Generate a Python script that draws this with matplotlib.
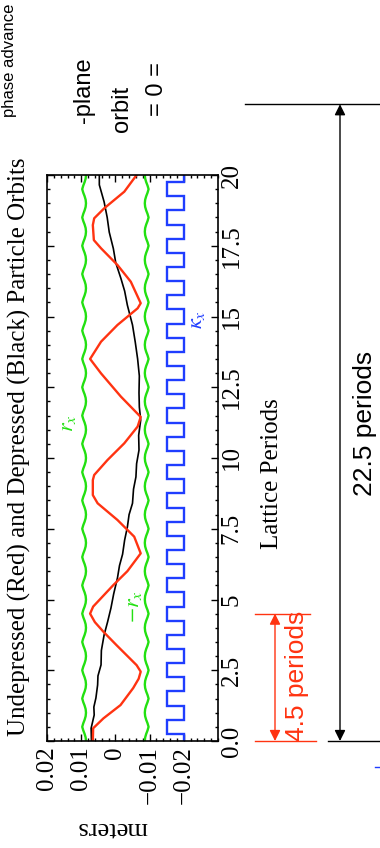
import numpy as np
import matplotlib
matplotlib.use("Agg")
import matplotlib.pyplot as plt
from matplotlib.transforms import blended_transform_factory

# undepressed orbit (red): lattice period, x [m]
red_p = [0.0, 0.45, 0.8, 1.27, 1.87, 2.2, 2.45, 2.68, 3.39, 3.86, 4.2, 4.5, 4.75,
         5.51, 6.0, 6.63, 7.22, 7.81, 8.4, 8.69, 9.22, 9.4, 9.93, 10.52, 11.11,
         11.45, 12.17, 12.99, 13.5, 14.11, 14.7, 15.29, 15.47, 16.23, 16.82,
         17.41, 17.7, 18.23, 18.47, 18.82, 19.41, 20.0]
red_x = [0.0066, 0.0065, 0.0035, -0.0015, -0.0052, -0.0068, -0.0074, -0.0062,
         -0.0003, 0.0035, 0.0060, 0.0074, 0.0065, 0.0006, -0.0035, -0.0074,
         -0.0055, -0.0006, 0.0052, 0.0066, 0.0066, 0.0062, 0.0023, -0.0026,
         -0.0065, -0.0074, -0.0016, 0.0042, 0.0074, 0.0042, -0.0006, -0.0065,
         -0.0074, -0.0045, -0.0006, 0.0042, 0.0063, 0.0066, 0.0062, 0.0033,
         -0.0026, -0.0062]

# depressed orbit (black)
blk_p = [0.0, 0.45, 0.92, 1.2, 1.52, 1.98, 2.3, 2.69, 3.2, 3.75, 4.2, 4.7, 5.2,
         5.76, 6.2, 6.6, 7.1, 7.56, 8.0, 8.4, 8.9, 9.33, 9.8, 10.28, 10.8, 11.34,
         11.8, 12.3, 12.9, 13.5, 14.1, 14.7, 15.4, 15.9, 16.35, 16.9, 17.4,
         17.98, 18.5, 19.05, 19.65, 20.0]
blk_x = [0.0070, 0.0071, 0.0062, 0.0063, 0.0057, 0.0052, 0.0051, 0.0042, 0.0041,
         0.0033, 0.0023, 0.0013, 0.0005, -0.0006, -0.0012, -0.0021, -0.0027,
         -0.0035, -0.0040, -0.0050, -0.0053, -0.0060, -0.0062, -0.0069, -0.0068,
         -0.0074, -0.0070, -0.0069, -0.0070, -0.0065, -0.0058, -0.0050, -0.0035,
         -0.0027, -0.0016, -0.0001, 0.0006, 0.0018, 0.0024, 0.0033, 0.0047,
         0.0047]

# matched beam edge r_x, sampled every 1/8 period
env_p = np.arange(0, 20.001, 0.125)
env_r = [
    0.0086, 0.0087, 0.0090, 0.0094, 0.0097, 0.0094, 0.0090, 0.0087,
    0.0086, 0.0087, 0.0090, 0.0094, 0.0097, 0.0094, 0.0090, 0.0087,
    0.0086, 0.0087, 0.0090, 0.0094, 0.0097, 0.0094, 0.0090, 0.0087,
    0.0086, 0.0087, 0.0090, 0.0094, 0.0097, 0.0094, 0.0090, 0.0087,
    0.0086, 0.0087, 0.0090, 0.0094, 0.0097, 0.0094, 0.0090, 0.0087,
    0.0086, 0.0087, 0.0090, 0.0094, 0.0097, 0.0094, 0.0090, 0.0087,
    0.0086, 0.0087, 0.0090, 0.0094, 0.0097, 0.0094, 0.0090, 0.0087,
    0.0086, 0.0087, 0.0090, 0.0094, 0.0097, 0.0094, 0.0090, 0.0087,
    0.0086, 0.0087, 0.0090, 0.0094, 0.0097, 0.0094, 0.0090, 0.0087,
    0.0086, 0.0087, 0.0090, 0.0094, 0.0097, 0.0094, 0.0090, 0.0087,
    0.0086, 0.0087, 0.0090, 0.0094, 0.0097, 0.0094, 0.0090, 0.0087,
    0.0086, 0.0087, 0.0090, 0.0094, 0.0097, 0.0094, 0.0090, 0.0087,
    0.0086, 0.0087, 0.0090, 0.0094, 0.0097, 0.0094, 0.0090, 0.0087,
    0.0086, 0.0087, 0.0090, 0.0094, 0.0097, 0.0094, 0.0090, 0.0087,
    0.0086, 0.0087, 0.0090, 0.0094, 0.0097, 0.0094, 0.0090, 0.0087,
    0.0086, 0.0087, 0.0090, 0.0094, 0.0097, 0.0094, 0.0090, 0.0087,
    0.0086, 0.0087, 0.0090, 0.0094, 0.0097, 0.0094, 0.0090, 0.0087,
    0.0086, 0.0087, 0.0090, 0.0094, 0.0097, 0.0094, 0.0090, 0.0087,
    0.0086, 0.0087, 0.0090, 0.0094, 0.0097, 0.0094, 0.0090, 0.0087,
    0.0086, 0.0087, 0.0090, 0.0094, 0.0097, 0.0094, 0.0090, 0.0087,
    0.0086,
]

# focusing function kappa_x (blue), element start / end in periods
quad_start = [0.25, 1.25, 2.25, 3.25, 4.25, 5.25, 6.25, 7.25, 8.25, 9.25,
              10.25, 11.25, 12.25, 13.25, 14.25, 15.25, 16.25, 17.25, 18.25, 19.25]
quad_end = [0.75, 1.75, 2.75, 3.75, 4.75, 5.75, 6.75, 7.75, 8.75, 9.75,
            10.75, 11.75, 12.75, 13.75, 14.75, 15.75, 16.75, 17.75, 18.75, 19.75]
kappa_off, kappa_on = -0.02, -0.015

x_ticks = [0.02, 0.01, 0.0, -0.01, -0.02]
x_ticklabels = ["0.02", "0.01", "0", "\u22120.01", "\u22120.02"]
p_ticks = [0, 2.5, 5, 7.5, 10, 12.5, 15, 17.5, 20]
p_ticklabels = ["0.0", "2.5", "5", "7.5", "10", "12.5", "15", "17.5", "20"]

undep_span = 4.5
dep_span = 22.5

RED = "#ff3311"
GREEN = "#22e011"
BLUE = "#1f3dff"

plt.rcParams["font.family"] = ["Liberation Serif", "DejaVu Serif"]
plt.rcParams["mathtext.fontset"] = "stix"

W, H = 380, 848
fig = plt.figure(figsize=(W / 100, H / 100), dpi=100)
ax = fig.add_axes([47 / W, 1 - 741 / H, 171 / W, 566 / H])


def fx(px):
    return px / W


def fy(py):
    return 1 - py / H


# blue step curve
kx = [kappa_off]
kp = [0.0]
for s, e in zip(quad_start, quad_end):
    kx += [kappa_off, kappa_on, kappa_on, kappa_off]
    kp += [s, s, e, e]
kx.append(kappa_off)
kp.append(20.0)
ax.plot(kx, kp, color=BLUE, lw=1.7, solid_joinstyle="miter")

env_r = np.array(env_r)
ax.plot(env_r, env_p, color=GREEN, lw=1.7)
ax.plot(-env_r, env_p, color=GREEN, lw=1.7)
ax.plot(blk_x, blk_p, color="black", lw=1.2)
ax.plot(red_x, red_p, color=RED, lw=1.7)

ax.set_xlim(0.02, -0.03)
ax.set_ylim(0, 20)
ax.set_xticks(x_ticks)
ax.set_xticklabels(x_ticklabels)
ax.set_xticks(np.arange(-0.03, 0.0201, 0.002), minor=True)
ax.set_yticks(p_ticks)
ax.set_yticklabels(p_ticklabels)
ax.set_yticks(np.arange(0, 20.01, 0.5), minor=True)

ax.tick_params(axis="both", which="both", direction="in", top=True, bottom=True,
               left=True, right=True, width=1)
ax.tick_params(which="major", length=5)
ax.tick_params(which="minor", length=2.5)
ax.tick_params(axis="x", labelrotation=90, labelsize=18, pad=4)
ax.tick_params(axis="y", labelleft=False, labelright=True, labelrotation=90,
               labelsize=18, pad=2)
for lab in ax.get_yticklabels():
    lab.set_verticalalignment("center")
for sp in ax.spines.values():
    sp.set_linewidth(1.2)

# axis texts
fig.text(fx(19), fy(447), "Undepressed (Red) and Depressed (Black) Particle Orbits",
         rotation=90, ha="center", va="center", fontsize=18)
fig.text(fx(272), fy(474), "Lattice Periods", rotation=90, ha="center",
         va="center", fontsize=18)
fig.text(fx(112), fy(828), "meters", rotation=180, ha="center", va="center",
         fontsize=19)

# curve labels
fig.text(fx(68), fy(423), r"$r_x$", color=GREEN, rotation=90, ha="center",
         va="center", fontsize=16)
fig.text(fx(134), fy(607), r"$-r_x$", color=GREEN, rotation=90, ha="center",
         va="center", fontsize=16)
fig.text(fx(198), fy(320), r"$\kappa_x$", color=BLUE, rotation=90, ha="center",
         va="center", fontsize=16)

# period markers
tr = blended_transform_factory(fig.transFigure, ax.transData)
sans = ["Liberation Sans Narrow", "Liberation Sans", "DejaVu Sans"]

ax.plot([fx(255), fx(316)], [0, 0], color=RED, lw=1, transform=tr, clip_on=False)
ax.plot([fx(255), fx(310)], [undep_span, undep_span], color=RED, lw=1,
        transform=tr, clip_on=False)
ax.annotate("", xy=(fx(275), 0), xytext=(fx(275), undep_span), xycoords=tr,
            textcoords=tr, annotation_clip=False,
            arrowprops=dict(arrowstyle="<|-|>", color=RED, lw=1,
                            mutation_scale=16, shrinkA=0, shrinkB=0))
fig.text(fx(297), fy(676), f"{undep_span} periods", color=RED, rotation=90,
         ha="center", va="center", fontsize=19, family=sans)

ax.plot([fx(328), 1], [0, 0], color="black", lw=1, transform=tr, clip_on=False)
ax.plot([fx(245), 1], [dep_span, dep_span], color="black", lw=1,
        transform=tr, clip_on=False)
ax.annotate("", xy=(fx(340), 0), xytext=(fx(340), dep_span), xycoords=tr,
            textcoords=tr, annotation_clip=False,
            arrowprops=dict(arrowstyle="<|-|>", color="black", lw=1,
                            mutation_scale=16, shrinkA=0, shrinkB=0))
fig.text(fx(365), fy(423), f"{dep_span} periods", color="black", rotation=90,
         ha="center", va="center", fontsize=19, family=sans)
fig.lines.append(plt.Line2D([fx(375), fx(380)], [fy(767), fy(767)], color=BLUE,
                            lw=1, transform=fig.transFigure))

# header fragments
fig.text(fx(10), fy(60), "phase advance", rotation=90, ha="center", va="center",
         fontsize=12, family=sans)
fig.text(fx(84), fy(90), "-plane", rotation=90, ha="center", va="center",
         fontsize=17, family=sans)
fig.text(fx(122), fy(109), "orbit", rotation=90, ha="center", va="center",
         fontsize=17, family=sans)
fig.text(fx(157), fy(89), "= 0 =", rotation=90, ha="center", va="center",
         fontsize=17, family=sans)

fig.savefig("out.png", dpi=100)
plt.close(fig)
